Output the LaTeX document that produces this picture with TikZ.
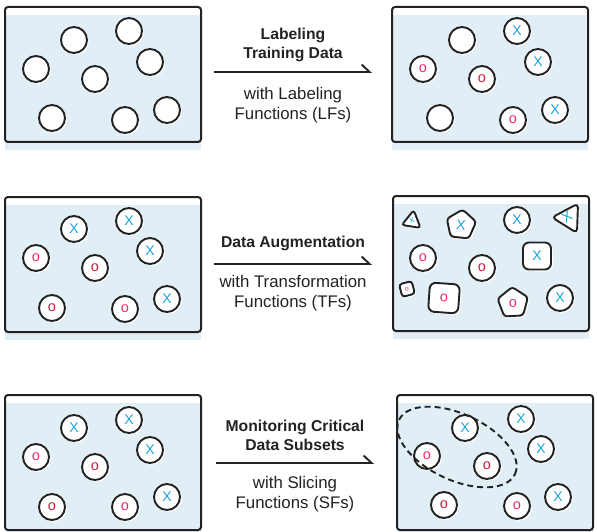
\documentclass[tikz,border=0pt]{standalone}
\usepackage{fontspec}
\setmainfont{Liberation Sans}
\usetikzlibrary{shapes.geometric,shadows,arrows.meta}
\definecolor{panelfill}{HTML}{E1EEF5}
\definecolor{ink}{HTML}{222222}
\definecolor{xblue}{HTML}{1BA3D9}
\definecolor{opink}{HTML}{EE2C6C}
\definecolor{ored}{HTML}{C91C3A}
\tikzset{
  panelbox/.style={draw=ink,line width=2pt,rounded corners=3pt},
  panelbg/.style={fill=panelfill},
  wshadow/.style={drop shadow={shadow xshift=1.8pt,shadow yshift=-1.8pt,fill=white,opacity=1}},
  item/.style={draw=ink,line width=1.9pt,fill=white,inner sep=0pt,wshadow},
  dot/.style={item,circle,minimum size=26pt},
  xm/.style={text=xblue,font=\fontsize{14}{14}\selectfont},
  op/.style={text=opink,font=\fontsize{14.5}{14}\selectfont},
  orr/.style={text=ored,font=\fontsize{14.5}{14}\selectfont},
  boldlbl/.style={font=\fontsize{15.7}{19.5}\selectfont\bfseries,align=center,text=ink,inner sep=0pt},
  reglbl/.style={font=\fontsize{16.8}{20}\selectfont,align=center,text=ink,inner sep=0pt},
  flow/.style={draw=ink,line width=1.9pt,-{Straight Barb[left,length=8pt,width=15pt]}},
  slice/.style={draw=ink,line width=1.9pt,dash pattern=on 6pt off 4pt},
}
\begin{document}
\begin{tikzpicture}[x=1pt,y=-1pt]
\useasboundingbox (0,0) rectangle (597,532);
% ---------- panel backgrounds and frames
\foreach \px/\py in {5/7,392/7,5/197,393/196,5/395,397/395}{
  \fill[panelbg] (\px,\py+8) rectangle (\px+196,\py+143);
  \draw[panelbox] (\px,\py) rectangle (\px+196,\py+135);
}
% ---------- top left: unlabeled
\begin{scope}[shift={(5,7)}]
\node[dot] (tl1) at (69,33) {};
\node[dot] (tl2) at (124,24) {};
\node[dot] (tl3) at (31,62) {};
\node[dot] (tl4) at (145,55) {};
\node[dot] (tl5) at (90,72) {};
\node[dot] (tl6) at (47,111) {};
\node[dot] (tl7) at (120,113) {};
\node[dot] (tl8) at (162,103) {};
\end{scope}
% ---------- top right: labeled
\begin{scope}[shift={(392,7)}]
\node[dot] (tr1) at (70,33) {};
\node[dot,xm] (tr2) at (125,24) {X};
\node[dot,op] (tr3) at (31,62) {o};
\node[dot,xm] (tr4) at (146,55) {X};
\node[dot,orr] (tr5) at (90,72) {o};
\node[dot] (tr6) at (48,111) {};
\node[dot,op] (tr7) at (121,113) {o};
\node[dot,xm] (tr8) at (163,103) {X};
\end{scope}
% ---------- middle left
\begin{scope}[shift={(5,197)}]
\node[dot,xm] (ml1) at (69,32) {X};
\node[dot,xm] (ml2) at (124,24) {X};
\node[dot,op] (ml3) at (31,61) {o};
\node[dot,xm] (ml4) at (145,54) {X};
\node[dot,orr] (ml5) at (90,71) {o};
\node[dot,orr] (ml6) at (47,111) {o};
\node[dot,op] (ml7) at (120,112) {o};
\node[dot,xm] (ml8) at (162,102) {X};
\end{scope}
% ---------- middle right: augmented
\node[item,regular polygon,regular polygon sides=3,minimum size=22pt,rotate=-9,rounded corners=3pt] (mr1) at (412,221) {};
\node[text=xblue,font=\fontsize{9}{9}\selectfont,rotate=20] (mr1x) at (412,220) {x};
\node[item,regular polygon,regular polygon sides=5,minimum size=31pt,rotate=-6,rounded corners=3pt,xm] (mr2) at (461,225) {X};
\node[dot,xm] (mr3) at (517,220) {X};
\node[item,regular polygon,regular polygon sides=3,minimum size=34pt,rotate=88,rounded corners=4pt] (mr4) at (569,218) {};
\node[xm,rotate=32] (mr4x) at (567,217) {X};
\node[dot,op] (mr5) at (423,258) {o};
\node[dot,orr] (mr6) at (482,268) {o};
\node[item,rectangle,minimum width=28pt,minimum height=27pt,rounded corners=6pt,xm] (mr7) at (537,256) {X};
\node[item,rectangle,minimum size=13pt,rotate=15,rounded corners=3pt,text=opink,font=\fontsize{6.5}{6}\selectfont] (mr8) at (407,289) {o};
\node[item,rectangle,minimum width=30pt,minimum height=29pt,rotate=-4,rounded corners=6pt,op] (mr9) at (444,298) {o};
\node[item,regular polygon,regular polygon sides=5,minimum size=32pt,rotate=3,rounded corners=3pt,op] (mr10) at (513,303) {o};
\node[dot,xm] (mr11) at (560,298) {X};
% ---------- bottom left
\begin{scope}[shift={(5,395)}]
\node[dot,xm] (bl1) at (69,33) {X};
\node[dot,xm] (bl2) at (124,25) {X};
\node[dot,op] (bl3) at (31,62) {o};
\node[dot,xm] (bl4) at (145,55) {X};
\node[dot,orr] (bl5) at (90,72) {o};
\node[dot,orr] (bl6) at (47,112) {o};
\node[dot,op] (bl7) at (120,112) {o};
\node[dot,xm] (bl8) at (162,102) {X};
\end{scope}
% ---------- bottom right: slice
\begin{scope}[shift={(397,395)}]
\node[dot,xm] (br1) at (68,33) {X};
\node[dot,xm] (br2) at (124,24) {X};
\node[dot,op] (br3) at (30,61) {o};
\node[dot,xm] (br4) at (144,54) {X};
\node[dot,orr] (br5) at (90,71) {o};
\node[dot,orr] (br6) at (47,110) {o};
\node[dot,op] (br7) at (120,111) {o};
\node[dot,xm] (br8) at (161,102) {X};
\end{scope}
\coordinate (slc) at (457,447);
\draw[slice,rotate around={-25:(slc)}] (slc) ellipse [x radius=64pt,y radius=33pt];
% ---------- arrows and labels
\node[boldlbl] (t1) at (293,45) {Labeling\\Training Data};
\coordinate (a1s) at (214,72);
\coordinate (a1e) at (372,72);
\draw[flow] (a1s) -- (a1e);
\node[reglbl] (s1) at (293,105) {with Labeling\\Functions (LFs)};

\node[boldlbl] (t2) at (293,243) {Data Augmentation};
\coordinate (a2s) at (214,264);
\coordinate (a2e) at (372,264);
\draw[flow] (a2s) -- (a2e);
\node[reglbl] (s2) at (293,293.5) {with Transformation\\Functions (TFs)};

\node[boldlbl] (t3) at (295,435.5) {Monitoring Critical\\Data Subsets};
\coordinate (a3s) at (216,463);
\coordinate (a3e) at (374,463);
\draw[flow] (a3s) -- (a3e);
\node[reglbl] (s3) at (295,494) {with Slicing\\Functions (SFs)};
\end{tikzpicture}
\end{document}
